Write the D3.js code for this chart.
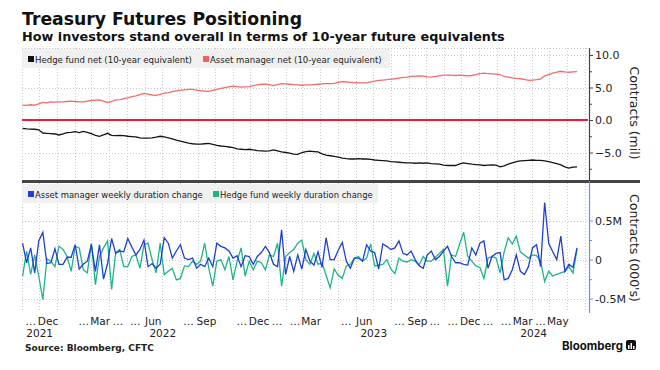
<!DOCTYPE html>
<html>
<head>
<meta charset="utf-8">
<script src="https://cdn.jsdelivr.net/npm/d3@7"></script>
<style>
  body { margin: 0; background: #fff; }
  svg { display: block; }
</style>
</head>
<body>
<svg width="660" height="370"></svg>
<script>
'use strict';

// weekly CFTC readings, first one on Tue 2 Nov 2021
const firstWeek = new Date(2021, 10, 2);

// net positions, millions of 10-year equivalents
const assetMgrNet = [
  2.3, 2.25, 2.35, 2.3, 2.5, 2.7, 2.65, 2.8, 2.75, 2.8,
  2.8, 2.85, 2.9, 2.85, 2.8, 2.8, 2.9, 3.0, 3.05, 3.1,
  2.9, 2.7, 2.85, 3.1, 3.15, 3.3, 3.4, 3.6, 3.7, 3.9,
  4.1, 4.0, 3.85, 3.8, 3.95, 4.15, 4.2, 4.35, 4.5, 4.6,
  4.65, 4.7, 4.7, 4.6, 4.5, 4.45, 4.4, 4.55, 4.7, 4.85,
  5.0, 5.1, 5.2, 5.15, 5.05, 5.1, 5.15, 5.3, 5.4, 5.5,
  5.5, 5.45, 5.3, 5.45, 5.6, 5.55, 5.5, 5.45, 5.4, 5.35,
  5.4, 5.4, 5.45, 5.5, 5.55, 5.6, 5.6, 5.65, 5.8, 5.9,
  5.85, 5.8, 5.75, 5.7, 5.7, 5.7, 5.85, 6.0, 6.1, 6.15,
  6.2, 6.3, 6.35, 6.45, 6.55, 6.6, 6.7, 6.75, 6.8, 6.75,
  6.65, 6.6, 6.7, 6.8, 6.9, 6.9, 6.9, 6.85, 6.9, 6.85,
  6.8, 6.85, 7.0, 7.15, 7.2, 7.15, 7.1, 7.05, 7.0, 6.7,
  6.6, 6.5, 6.4, 6.35, 6.25, 6.1, 6.15, 6.2, 6.3, 6.8,
  7.0, 7.2, 7.35, 7.5, 7.4, 7.35, 7.4, 7.45
];
const hedgeFundNet = [
  -1.28, -1.35, -1.4, -1.42, -1.5, -2.0, -2.05, -2.1, -2.15, -2.3,
  -2.15, -1.95, -1.9, -1.8, -1.95, -1.75, -1.9, -2.1, -2.35, -2.5,
  -2.3, -2.05, -2.35, -2.4, -2.35, -2.4, -2.5, -2.55, -2.6, -2.75,
  -2.8, -2.8, -2.75, -2.65, -2.5, -2.6, -2.75, -2.9, -3.1, -3.25,
  -3.4, -3.55, -3.65, -3.7, -3.7, -3.65, -3.6, -3.75, -3.9, -4.0,
  -4.05, -4.15, -4.25, -4.45, -4.5, -4.55, -4.5, -4.6, -4.7, -4.75,
  -4.8, -4.75, -4.6, -4.75, -4.9, -5.0, -5.1, -5.25, -5.3, -5.0,
  -4.85, -4.8, -4.85, -4.9, -5.2, -5.4, -5.5, -5.6, -5.7, -5.85,
  -5.95, -6.0, -6.0, -5.95, -6.0, -6.0, -6.05, -6.15, -6.2, -6.25,
  -6.3, -6.4, -6.45, -6.5, -6.55, -6.6, -6.6, -6.65, -6.6, -6.65,
  -6.6, -6.7, -6.75, -6.8, -6.95, -7.0, -7.0, -7.0, -6.75, -6.6,
  -6.7, -6.8, -6.85, -6.9, -7.0, -6.95, -6.9, -6.95, -7.2, -7.05,
  -6.8, -6.6, -6.4, -6.3, -6.25, -6.2, -6.15, -6.2, -6.2, -6.3,
  -6.4, -6.55, -6.7, -6.9, -7.2, -7.4, -7.25, -7.2
];

// weekly duration change, millions of contracts
const assetMgrWeekly = [
  0.21, -0.04, 0.15, -0.17, 0.24, 0.35, -0.05, -0.04, 0.14, -0.06,
  -0.06, 0.03, 0.03, 0.19, -0.12, -0.06, -0.02, 0.19, -0.15, 0.19,
  -0.25, -0.05, 0.27, 0.08, 0.11, 0.1, 0.27, 0.16, 0.06, 0.13,
  0.25, -0.09, -0.05, -0.11, -0.06, 0.28, 0.21, 0.02, 0.11, 0.19,
  0.02, 0.0, 0.02, -0.11, -0.06, -0.09, 0.02, -0.09, 0.21, 0.17,
  0.15, 0.11, 0.02, 0.05, -0.09, 0.05, 0.04, -0.06, 0.04, 0.09,
  0.17, 0.09, -0.06, -0.09, 0.38, -0.19, 0.04, -0.15, 0.06,
  -0.12, 0.13, -0.02, -0.07, 0.1, -0.1, 0.28, 0.0, 0.0, 0.12,
  0.22, -0.02, -0.11, 0.02, 0.02, -0.02, 0.19, 0.11, 0.09, -0.12,
  0.2, 0.17, 0.13, 0.15, 0.24, 0.08, 0.06, 0.11, 0.0, -0.08,
  -0.11, 0.06, 0.11, 0.0, 0.04, 0.11, 0.17, 0.04, -0.04, -0.04,
  -0.06, -0.07, 0.15, 0.06, 0.21, 0.24, -0.11, 0.04, 0.08, 0.09,
  -0.26, -0.24, -0.13, 0.06, -0.15, -0.19, -0.09, 0.15, 0.19, -0.09,
  0.73, 0.21, 0.1, 0.0, 0.3, -0.15, -0.06, -0.1, 0.15
];
const hedgeFundWeekly = [
  -0.21, 0.11, -0.19, 0.06, -0.21, -0.51, 0.01, -0.02, -0.09, 0.17,
  0.13, 0.04, -0.15, 0.17, 0.15, -0.13, -0.17, 0.21, -0.32, 0.04,
  0.15, 0.24, -0.38, 0.09, 0.13, -0.09, -0.09, 0.04, 0.06, -0.11,
  0.19, 0.21, 0.0, -0.17, 0.21, -0.19, -0.15, -0.11, -0.26, -0.24,
  -0.08, -0.09, -0.02, -0.06, -0.02, 0.21, -0.11, -0.34, -0.02, 0.0,
  -0.13, 0.04, -0.26, -0.02, 0.15, -0.21, -0.02, -0.13, -0.02, -0.04,
  -0.13, 0.06, 0.04, 0.21, -0.34, 0.04, 0.09, 0.13, 0.21,
  0.25, 0.0, -0.06, 0.08, -0.06, -0.04, -0.2, -0.36, -0.12, -0.2,
  -0.24, -0.08, -0.06, 0.02, 0.04, -0.02, 0.02, 0.2, -0.08, -0.07,
  -0.06, 0.0, -0.12, -0.18, 0.02, -0.02, -0.03, 0.0, -0.02, -0.07,
  0.04, -0.02, -0.02, 0.03, 0.08, 0.13, -0.34, 0.06, 0.04, 0.2,
  0.35, 0.04, -0.02, -0.08, -0.1, -0.24, 0.02, 0.04, 0.02, -0.17,
  0.1, 0.28, 0.2, 0.3, 0.1, 0.06, 0.02, 0.06, 0.05, -0.02,
  -0.28, -0.15, -0.21, -0.19, -0.17, -0.15, -0.09, -0.17, 0.13
];

// bottom axis text as Bloomberg prints it ("…" = squeezed month)
const monthLabels = [
  ["2021-11", "…"], ["2021-12", "Dec"], ["2022-02", "…"], ["2022-03", "Mar"],
  ["2022-04", "…"], ["2022-05", "…"], ["2022-06", "Jun"], ["2022-08", "…"],
  ["2022-09", "Sep"], ["2022-11", "…"], ["2022-12", "Dec"], ["2023-01", "…"],
  ["2023-02", "…"], ["2023-03", "Mar"], ["2023-05", "…"], ["2023-06", "Jun"],
  ["2023-08", "…"], ["2023-09", "Sep"], ["2023-10", "…"], ["2023-11", "…"],
  ["2023-12", "Dec"], ["2024-01", "…"], ["2024-02", "…"], ["2024-03", "Mar"],
  ["2024-04", "…"], ["2024-05", "May"]
];
const yearLabels = [2021, 2022, 2023, 2024];

const topTicks = [-7.5, -5, -2.5, 0, 2.5, 5, 7.5, 10];
const topLabelled = [-5, 0, 5, 10];
const topGrid = [-5, 5, 10];
const botTicks = [-0.5, -0.25, 0, 0.25, 0.5];
const botLabelled = [-0.5, 0, 0.5];
const botGrid = [-0.5, 0, 0.5];

const dates = assetMgrNet.map((d, i) => d3.timeDay.offset(firstWeek, 7 * i));

const FONT = "DejaVu Sans, Verdana, sans-serif";
const FONT_COND = "DejaVu Sans Condensed, DejaVu Sans, sans-serif";
const svg = d3.select("svg");
const left = 22, right = 588;
const top1 = 48, bot1 = 180, top2 = 183, bot2 = 312;

svg.append("rect").attr("width", 660).attr("height", 370).attr("fill", "#fff");

const x = d3.scaleTime()
    .domain([new Date(2021, 10, 1), new Date(2024, 6, 7)])
    .range([left, right]);
const y1 = d3.scaleLinear().domain([-9.23, 11.08]).range([bot1, top1]);
const y2 = d3.scaleLinear().domain([-0.67, 0.98]).range([bot2, top2]);

// squeeze/stretch a text to the width it has in the picture
function fitWidth(sel, w) {
  const cur = sel.node().getComputedTextLength();
  const fs = parseFloat(sel.attr("font-size"));
  sel.attr("font-size", (fs * w / cur).toFixed(2));
}

// ---- titles
const title = svg.append("text")
    .attr("x", 22).attr("y", 25)
    .attr("font-family", FONT).attr("font-weight", "bold").attr("font-size", 17)
    .attr("fill", "#111")
    .text("Treasury Futures Positioning");
fitWidth(title, 280);

const subtitle = svg.append("text")
    .attr("x", 22).attr("y", 41)
    .attr("font-family", FONT).attr("font-weight", "bold").attr("font-size", 11)
    .attr("fill", "#111")
    .text("How investors stand overall in terms of 10-year future equivalents");
fitWidth(subtitle, 483);

// ---- grid
const months = d3.timeMonth.range(x.domain()[0], x.domain()[1]);
const grid = svg.append("g")
    .attr("stroke", "#c8c8c8")
    .attr("stroke-width", 1)
    .attr("stroke-dasharray", "1,2");

grid.selectAll(".vgrid1").data(months).enter().append("line")
    .attr("x1", d => Math.round(x(d)) + 0.5).attr("x2", d => Math.round(x(d)) + 0.5)
    .attr("y1", top1).attr("y2", bot1);
grid.selectAll(".vgrid2").data(months).enter().append("line")
    .attr("x1", d => Math.round(x(d)) + 0.5).attr("x2", d => Math.round(x(d)) + 0.5)
    .attr("y1", top2).attr("y2", bot2);
grid.append("line")
    .attr("x1", left).attr("x2", right).attr("y1", top1 + 0.5).attr("y2", top1 + 0.5);
grid.selectAll(".hgrid1").data(topGrid).enter().append("line")
    .attr("x1", left).attr("x2", right)
    .attr("y1", d => Math.round(y1(d)) + 0.5).attr("y2", d => Math.round(y1(d)) + 0.5);
grid.selectAll(".hgrid2").data(botGrid).enter().append("line")
    .attr("x1", left).attr("x2", right)
    .attr("y1", d => Math.round(y2(d)) + 0.5).attr("y2", d => Math.round(y2(d)) + 0.5);

// ---- legends
function legend(items, yTop, w) {
  const g = svg.append("g");
  g.append("rect").attr("x", left).attr("y", yTop).attr("width", w).attr("height", 19)
      .attr("fill", "#f0f0f0");
  items.forEach(it => {
    g.append("rect").attr("x", it.x).attr("y", yTop + 7).attr("width", 6).attr("height", 6)
        .attr("fill", it.color);
    const t = g.append("text")
        .attr("x", it.x + 7).attr("y", yTop + 13.5)
        .attr("font-family", FONT_COND).attr("font-size", 9.5).attr("fill", "#222")
        .text(it.label);
    fitWidth(t, it.w);
  });
}

// ---- upper panel: net positions
const line1 = d3.line().x((d, i) => x(dates[i])).y(d => y1(d));
svg.append("line")
    .attr("x1", left).attr("x2", right)
    .attr("y1", y1(0)).attr("y2", y1(0))
    .attr("stroke", "#ee1a36").attr("stroke-width", 2);
svg.append("path").datum(assetMgrNet)
    .attr("fill", "none").attr("stroke", "#f36c6c").attr("stroke-width", 1.3)
    .attr("d", line1);
svg.append("path").datum(hedgeFundNet)
    .attr("fill", "none").attr("stroke", "#151515").attr("stroke-width", 1.3)
    .attr("d", line1);

legend([
  {x: 28, color: "#111", label: "Hedge fund net (10-year equivalent)", w: 157},
  {x: 203, color: "#f36060", label: "Asset manager net (10-year equivalent)", w: 172}
], 49, 368);

// ---- lower panel: weekly changes
const line2 = d3.line().x((d, i) => x(dates[i])).y(d => y2(d));
svg.append("path").datum(hedgeFundWeekly)
    .attr("fill", "none").attr("stroke", "#1fb38c").attr("stroke-width", 1.3)
    .attr("d", line2);
svg.append("path").datum(assetMgrWeekly)
    .attr("fill", "none").attr("stroke", "#1f3fd6").attr("stroke-width", 1.3)
    .attr("d", line2);

legend([
  {x: 28, color: "#1f3fd6", label: "Asset manager weekly duration change", w: 168},
  {x: 213, color: "#1fb38c", label: "Hedge fund weekly duration change", w: 153}
], 184, 356);

// panel separator
svg.append("line")
    .attr("x1", left).attr("x2", 640).attr("y1", 181.5).attr("y2", 181.5)
    .attr("stroke", "#444").attr("stroke-width", 3);

// ---- right axes
function styleAxis(g, color, labelled) {
  g.attr("font-family", FONT).attr("font-size", 11);
  g.select(".domain").attr("stroke", color).attr("stroke-width", 1.2);
  g.selectAll(".tick line").attr("stroke", color)
      .attr("x2", d => labelled.includes(d) ? 4 : 3);
  g.selectAll(".tick text").attr("fill", "#222");
}

const axis1 = svg.append("g")
    .attr("transform", "translate(" + (right + 1) + ",0)")
    .call(d3.axisRight(y1).tickValues(topTicks).tickSizeOuter(0).tickSize(4).tickPadding(2)
        .tickFormat(d => topLabelled.includes(d) ? d3.format(".1f")(d) : ""));
styleAxis(axis1, "#444", topLabelled);
axis1.select(".domain").attr("d", "M0.5," + top1 + "V" + bot1);

const axis2 = svg.append("g")
    .attr("transform", "translate(" + (right + 1) + ",0)")
    .call(d3.axisRight(y2).tickValues(botTicks).tickSizeOuter(0).tickSize(4).tickPadding(2)
        .tickFormat(d => botLabelled.includes(d) ? (d === 0 ? "0" : d + "M") : ""));
styleAxis(axis2, "#6a8cf0", botLabelled);
axis2.select(".domain").attr("d", "M0.5," + (bot1 + 1) + "V" + (bot2 + 1));

svg.append("text")
    .attr("transform", "translate(630,113) rotate(90)")
    .attr("text-anchor", "middle")
    .attr("font-family", FONT).attr("font-size", 12.5).attr("fill", "#222")
    .text("Contracts (mil)");
svg.append("text")
    .attr("transform", "translate(630,248) rotate(90)")
    .attr("text-anchor", "middle")
    .attr("font-family", FONT).attr("font-size", 12.5).attr("fill", "#222")
    .text("Contracts (000's)");

// ---- time axis labels
const parseMonth = d3.timeParse("%Y-%m");
svg.append("g").selectAll("text").data(monthLabels).enter().append("text")
    .attr("x", d => x(d3.timeDay.offset(parseMonth(d[0]), 15)))
    .attr("y", 325)
    .attr("text-anchor", "middle")
    .attr("font-family", FONT).attr("font-size", 10.5).attr("fill", "#222")
    .text(d => d[1]);

svg.append("g").selectAll("text").data(yearLabels).enter().append("text")
    .attr("x", d => {
      const a = Math.max(x(new Date(d, 0, 1)), left);
      const b = Math.min(x(new Date(d + 1, 0, 1)), right);
      return (a + b) / 2;
    })
    .attr("y", 337)
    .attr("text-anchor", "middle")
    .attr("font-family", FONT).attr("font-size", 10.5).attr("fill", "#222")
    .text(d => d);

// ---- footer
const source = svg.append("text")
    .attr("x", 25).attr("y", 351)
    .attr("font-family", FONT).attr("font-weight", "bold").attr("font-size", 8.5)
    .attr("fill", "#222")
    .text("Source: Bloomberg, CFTC");
fitWidth(source, 129);

const brand = svg.append("text")
    .attr("x", 562).attr("y", 350)
    .attr("font-family", "Inter, Roboto, sans-serif").attr("font-weight", "bold").attr("font-size", 12)
    .attr("fill", "#111")
    .text("Bloomberg");
fitWidth(brand, 61);

const icon = svg.append("g").attr("transform", "translate(626,340)");
icon.append("rect").attr("width", 10).attr("height", 10).attr("rx", 2).attr("fill", "#111");
[[2, 5, 4], [4.5, 3, 6], [7, 6, 3]].forEach(b => {
  icon.append("rect").attr("x", b[0]).attr("y", b[1]).attr("width", 1.5).attr("height", b[2])
      .attr("fill", "#fff");
});
</script>
</body>
</html>
